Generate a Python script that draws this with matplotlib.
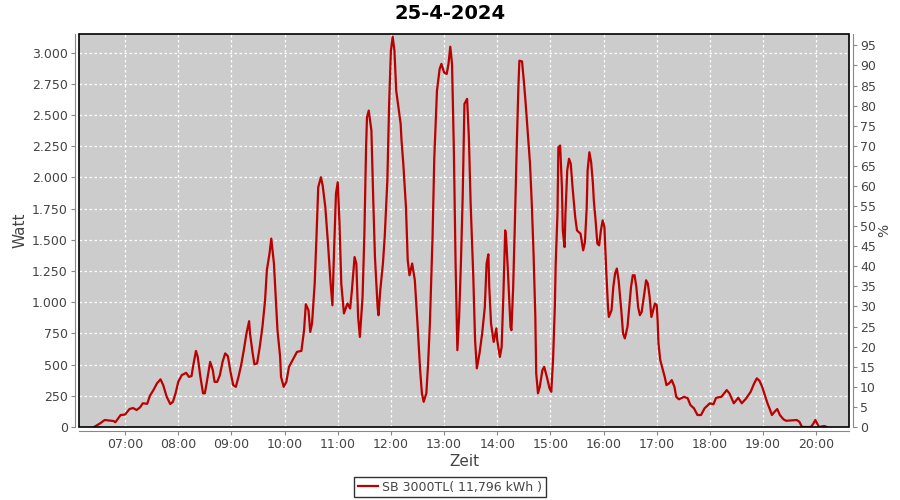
import matplotlib
matplotlib.use("Agg")
import matplotlib.pyplot as plt
import matplotlib.dates as mdates
from matplotlib.patches import Rectangle
from matplotlib.ticker import FuncFormatter, MultipleLocator
import pandas as pd

zeit = [
    "06:25", "06:32", "06:37", "06:47", "06:49", "06:55", "07:00", "07:05", "07:09", "07:13",
    "07:17", "07:20", "07:25", "07:28", "07:32", "07:36", "07:40", "07:43", "07:47", "07:51",
    "07:54", "07:57", "08:00", "08:04", "08:09", "08:12", "08:15", "08:17", "08:20", "08:22",
    "08:25", "08:28", "08:30", "08:32", "08:36", "08:39", "08:41", "08:44", "08:47", "08:50",
    "08:53", "08:56", "08:59", "09:02", "09:05", "09:08", "09:11", "09:14", "09:17", "09:20",
    "09:21", "09:24", "09:26", "09:29", "09:32", "09:35", "09:38", "09:40", "09:43", "09:45",
    "09:48", "09:50", "09:52", "09:55", "09:56", "09:59", "10:02", "10:05", "10:11", "10:14",
    "10:19", "10:22", "10:24", "10:27", "10:29", "10:31", "10:34", "10:36", "10:38", "10:41",
    "10:43", "10:46", "10:49", "10:52", "10:54", "10:56", "10:58", "11:00", "11:02", "11:04",
    "11:07", "11:11", "11:14", "11:16", "11:19", "11:21", "11:23", "11:25", "11:28", "11:30",
    "11:32", "11:33", "11:35", "11:38", "11:40", "11:42", "11:45", "11:46", "11:48", "11:51",
    "11:53", "11:56", "11:58", "12:00", "12:02", "12:04", "12:06", "12:09", "12:11", "12:12",
    "12:14", "12:17", "12:19", "12:21", "12:24", "12:27", "12:30", "12:33", "12:35", "12:37",
    "12:40", "12:42", "12:44", "12:47", "12:49", "12:52", "12:55", "12:57", "13:00", "13:03",
    "13:05", "13:07", "13:09", "13:11", "13:13", "13:15", "13:17", "13:19", "13:21", "13:23",
    "13:26", "13:28", "13:30", "13:33", "13:35", "13:37", "13:40", "13:43", "13:46", "13:48",
    "13:50", "13:51", "13:53", "13:56", "13:59", "14:00", "14:03", "14:05", "14:07", "14:09",
    "14:10", "14:12", "14:15", "14:16", "14:18", "14:20", "14:22", "14:24", "14:25", "14:28",
    "14:30", "14:32", "14:34", "14:37", "14:39", "14:41", "14:43", "14:44", "14:46", "14:48",
    "14:51", "14:53", "14:56", "14:59", "15:01", "15:03", "15:05", "15:06", "15:08", "15:09",
    "15:11", "15:13", "15:14", "15:16", "15:17", "15:19", "15:21", "15:23", "15:25", "15:28",
    "15:30", "15:32", "15:34", "15:37", "15:39", "15:41", "15:42", "15:44", "15:46", "15:48",
    "15:49", "15:51", "15:53", "15:55", "15:57", "15:59", "16:01", "16:03", "16:05", "16:06",
    "16:09", "16:11", "16:13", "16:15", "16:17", "16:20", "16:22", "16:24", "16:27", "16:29",
    "16:31", "16:33", "16:35", "16:37", "16:39", "16:41", "16:43", "16:46", "16:48", "16:50",
    "16:52", "16:54", "16:56", "16:58", "17:00", "17:01", "17:02", "17:04", "17:06", "17:09",
    "17:11", "17:14", "17:17", "17:20", "17:22", "17:25", "17:31", "17:35", "17:38", "17:42",
    "17:46", "17:50", "17:54", "18:00", "18:04", "18:07", "18:13", "18:19", "18:22", "18:27",
    "18:32", "18:36", "18:41", "18:46", "18:50", "18:53", "18:56", "18:59", "19:02", "19:05",
    "19:08", "19:10", "19:13", "19:16", "19:19", "19:23", "19:26", "19:38", "19:41", "19:44",
    "19:54", "19:57", "19:59", "20:02", "20:03", "20:09", "20:12",
]
watt = [
    0, 30, 56, 48, 38, 96, 100, 144, 152, 136,
    158, 190, 186, 250, 296, 350, 382, 336, 242, 184,
    202, 270, 362, 416, 434, 402, 408, 496, 610, 562,
    402, 270, 270, 350, 522, 456, 362, 362, 416, 522,
    590, 568, 442, 336, 322, 402, 496, 616, 750, 848,
    750, 590, 502, 510, 642, 802, 1016, 1256, 1390, 1510,
    1310, 1042, 776, 562, 402, 322, 362, 482, 562, 602,
    610, 776, 984, 936, 762, 830, 1150, 1522, 1922, 2002,
    1936, 1762, 1470, 1150, 976, 1442, 1870, 1962, 1630, 1150,
    910, 990, 950, 1096, 1362, 1310, 882, 722, 1042, 1522,
    2242, 2482, 2536, 2376, 1842, 1362, 962, 896, 1096, 1310,
    1522, 1976, 2590, 3016, 3128, 3016, 2696, 2536, 2430, 2296,
    2110, 1762, 1336, 1216, 1310, 1176, 830, 456, 270, 202,
    270, 510, 830, 1522, 2162, 2696, 2870, 2910, 2842, 2830,
    2910, 3048, 2910, 2242, 1310, 616, 882, 1310, 1842, 2590,
    2630, 2322, 1790, 1202, 696, 470, 590, 750, 962, 1310,
    1384, 1122, 830, 682, 790, 696, 562, 642, 1070, 1576,
    1522, 1256, 802, 776, 1122, 1656, 2242, 2750, 2936, 2930,
    2776, 2602, 2402, 2110, 1790, 1390, 882, 430, 270, 322,
    456, 482, 402, 310, 282, 536, 962, 1310, 1710, 2242,
    2256, 1922, 1576, 1442, 1710, 2056, 2150, 2110, 1922, 1682,
    1576, 1562, 1550, 1416, 1482, 1762, 2056, 2202, 2122, 1950,
    1816, 1656, 1470, 1456, 1576, 1656, 1602, 1256, 962, 882,
    936, 1122, 1230, 1270, 1176, 936, 750, 710, 802, 962,
    1122, 1216, 1216, 1122, 962, 896, 922, 1070, 1176, 1150,
    1042, 882, 936, 990, 976, 856, 670, 536, 482, 402,
    336, 350, 376, 322, 242, 222, 242, 230, 176, 150,
    96, 96, 150, 190, 182, 234, 242, 296, 270, 190,
    234, 190, 230, 282, 350, 390, 370, 322, 256, 190,
    136, 96, 122, 144, 96, 62, 50, 56, 42, 0,
    0, 30, 56, 16, 0, 8, 0,
]

datum = "2024-04-25"
titel = "25-4-2024"
legende = "SB 3000TL( 11,796 kWh )"

t = pd.to_datetime([f"{datum} {z}" for z in zeit])

fig = plt.figure(figsize=(9, 5), dpi=100)
ax = fig.add_axes([79 / 900, 1 - 427 / 500, 770 / 900, 393 / 500])
ax.set_facecolor("#cccccc")

line, = ax.plot(t, watt, color="#bb0000", linewidth=1.6, label=legende)

ax.set_xlim(pd.Timestamp(f"{datum} 06:08"), pd.Timestamp(f"{datum} 20:37"))
ax.set_ylim(0, 3150)
ax.xaxis.set_major_locator(mdates.HourLocator())
ax.xaxis.set_major_formatter(mdates.DateFormatter("%H:%M"))
ax.yaxis.set_major_locator(MultipleLocator(250))
ax.yaxis.set_major_formatter(FuncFormatter(lambda v, p: f"{int(v):,}".replace(",", ".")))
ax.grid(True, color="white", linestyle=(0, (2, 2)), linewidth=0.9)
ax.set_axisbelow(True)

ax2 = ax.twinx()
ax2.set_ylim(0, 3150 / 32.2)
ax2.yaxis.set_major_locator(MultipleLocator(5))

grau = "#888888"
for a in (ax, ax2):
    a.tick_params(direction="out", length=3, color=grau, labelcolor="#444444",
                  labelsize=9, pad=2)
    a.spines["top"].set_visible(False)
for s in ("left", "bottom"):
    ax.spines[s].set_position(("outward", 3))
    ax.spines[s].set_color(grau)
ax.spines["right"].set_visible(False)
for s in ("left", "bottom"):
    ax2.spines[s].set_visible(False)
ax2.spines["right"].set_position(("outward", 3))
ax2.spines["right"].set_color(grau)

ax.add_patch(Rectangle((0, 0), 1, 1, transform=ax.transAxes, fill=False,
                       edgecolor="black", linewidth=1.2, clip_on=False, zorder=5))

ax.set_xlabel("Zeit", fontsize=11, color="#444444", labelpad=2)
ax.set_ylabel("Watt", fontsize=11, color="#444444", labelpad=3)
ax2.set_ylabel("%", fontsize=10, color="#444444", labelpad=1)
fig.suptitle(titel, fontsize=14, fontweight="bold", y=0.992)

leg = fig.legend(handles=[line], loc="center", bbox_to_anchor=(0.5, 1 - 487 / 500),
                 fontsize=9, frameon=True, fancybox=False, handlelength=1.6,
                 borderpad=0.3, handletextpad=0.4)
leg.get_frame().set_edgecolor("black")
leg.get_frame().set_linewidth(1.0)
for txt in leg.get_texts():
    txt.set_color("#444444")

fig.savefig("out.png", dpi=100)
